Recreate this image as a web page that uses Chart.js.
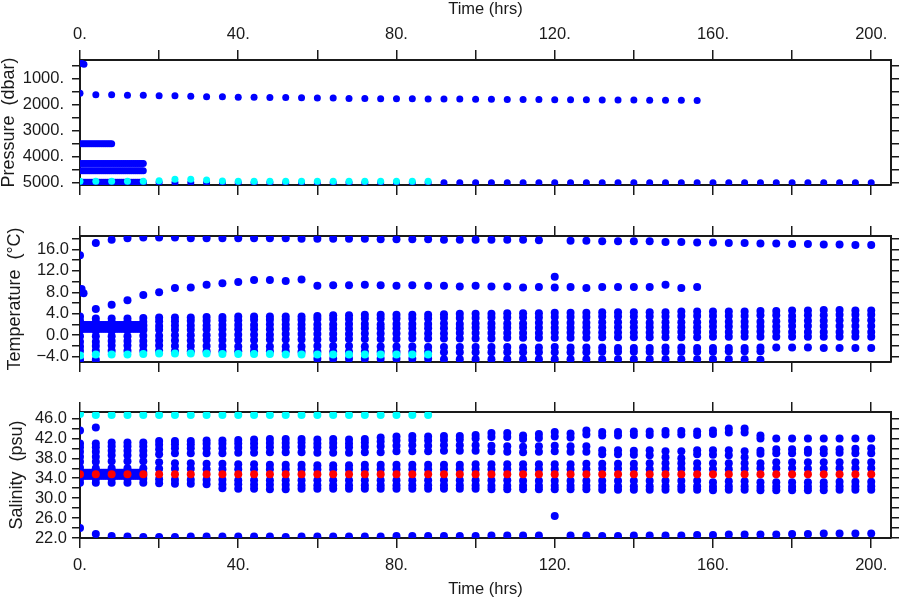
<!DOCTYPE html>
<html>
<head>
<meta charset="utf-8">
<title>Float time series</title>
<script src="https://cdn.jsdelivr.net/npm/chart.js@4.4.1/dist/chart.umd.min.js"></script>
<style>
  body { margin: 0; background: #fff; }
  #wrap { position: relative; width: 900px; height: 600px; }
  canvas { position: absolute; left: 0; }
</style>
</head>
<body>
<div id="wrap">
  <canvas id="presChart" width="900" height="200" style="top:0"></canvas>
  <canvas id="tempChart" width="900" height="200" style="top:200px"></canvas>
  <canvas id="salChart" width="900" height="200" style="top:400px"></canvas>
</div>
<script>
/* Sample times (hrs) */
const times = [0, 4, 8, 12, 16, 20, 24, 28, 32, 36, 40, 44, 48, 52, 56, 60, 64, 68, 72, 76,
  80, 84, 88, 92, 96, 100, 104, 108, 112, 116, 120, 124, 128, 132, 136, 140, 144, 148, 152, 156,
  160, 164, 168, 172, 176, 180, 184, 188, 192, 196, 200];
const denseTimes = [0, 0.5, 1, 1.5, 2, 2.5, 3, 3.5, 4, 4.5, 5, 5.5, 6, 6.5, 7, 7.5, 8, 8.5,
  9, 9.5, 10, 10.5, 11, 11.5, 12, 12.5, 13, 13.5, 14, 14.5, 15, 15.5, 16];

/* Tick positions */
const timeTicks = [0, 20, 40, 60, 80, 100, 120, 140, 160, 180, 200];
const presTicks = [500, 1000, 1500, 2000, 2500, 3000, 3500, 4000, 4500, 5000];
const tempTicks = [-4, -2, 0, 2, 4, 6, 8, 10, 12, 14, 16, 18];
const salTicks = [22, 24, 26, 28, 30, 32, 34, 36, 38, 40, 42, 44, 46];

/* Pressure (dbar) */
const presUpper = [1550, 1610, 1610, 1630, 1630, 1650, 1650, 1670, 1690, 1690,
  1710, 1710, 1720, 1720, 1730, 1740, 1740, 1750, 1750, 1760,
  1760, 1760, 1770, 1770, 1770, 1780, 1780, 1790, 1790, 1790,
  1800, 1800, 1800, 1810, 1810, 1810, 1820, 1820, 1820, 1830,
  null, null, null, null, null, null, null, null, null, null, null];
const presDeep = [5000, 4995, 4995, 4995, 4995, 4995, 5000, 5000, 5000, 5000,
  5000, 5000, 5000, 5000, 5000, 5000, 5000, 5000, 5000, 5000,
  5000, 5000, 5000, 5000, 5000, 5000, 5000, 5000, 5000, 5000,
  5000, 5000, 5000, 5000, 5000, 5000, 5000, 5000, 5000, 5000,
  5000, 5000, 5000, 5000, 5000, 5000, 5000, 5000, 5000, 5000, 5000];
const presCyan = [4950, 4950, 4950, 4950, 4950, 4930, 4870, 4870, 4900, 4940,
  4950, 4950, 4950, 4950, 4950, 4950, 4950, 4950, 4950, 4950, 4950, 4950, 4950];
const presExtraX = [0.4, 1];
const presExtraY = [400, 430];
const presBandLevels = [3500, 4260, 4540, 4980];
const presBandEnds = [8, 16, 16, 16];

/* Temperature (deg C) */
const tempTop = [14.9, 17.2, 17.8, 18.1, 18.2, 18.2, 18.2, 18.1, 18.1, 18.1,
  18.1, 18.1, 18.1, 18.1, 18.0, 18.0, 18.0, 18.0, 18.0, 17.9,
  17.9, 17.9, 17.9, 17.8, 17.8, 17.8, 17.8, 17.8, 17.8, 17.7,
  null, 17.6, 17.6, 17.5, 17.5, 17.5, 17.5, 17.4, 17.4, 17.3,
  17.3, 17.2, 17.2, 17.1, 17.1, 17.0, 17.0, 16.9, 16.9, 16.8, 16.8];
const tempMid = [8.0, 4.9, 5.7, 6.5, 7.5, 8.0, 8.8, 8.9, 9.4, 9.7,
  9.9, 10.3, 10.3, 10.1, 10.4, 9.2, 9.3, 9.3, 9.4, 9.3,
  9.2, 9.3, 9.2, 9.2, 9.1, 9.2, 9.1, 9.1, 8.9, 9.0,
  8.9, 9.0, 8.8, 9.0, 9.0, 9.0, 9.0, 9.4, 8.8, 9.0,
  null, null, null, null, null, null, null, null, null, null, null];
const tempA = [3.5, 3.1, 3.1, 3.1, 3.2, 3.3, 3.3, 3.3, 3.4, 3.4,
  3.5, 3.5, 3.5, 3.5, 3.5, 3.6, 3.7, 3.7, 3.8, 3.8,
  3.8, 3.8, 3.8, 3.9, 4.0, 4.0, 4.0, 4.1, 4.1, 4.1,
  4.2, 4.2, 4.2, 4.3, 4.3, 4.3, 4.3, 4.3, 4.4, 4.4,
  4.4, 4.4, 4.4, 4.5, 4.5, 4.6, 4.6, 4.7, 4.7, 4.6, 4.6];
const tempB = [2.7, 2.4, 2.4, 2.5, 2.5, 2.6, 2.6, 2.7, 2.7, 2.8,
  2.8, 2.9, 2.9, 2.9, 2.9, 3.0, 3.0, 3.0, 3.1, 3.1,
  3.1, 3.1, 3.1, 3.2, 3.2, 3.2, 3.3, 3.3, 3.3, 3.3,
  3.4, 3.4, 3.4, 3.5, 3.5, 3.5, 3.5, 3.5, 3.6, 3.6,
  3.6, 3.6, 3.6, 3.7, 3.7, 3.6, 3.7, 3.7, 3.8, 3.8, 3.8];
const tempC = [1.8, 1.6, 1.6, 1.6, 1.7, 1.7, 1.8, 1.8, 1.8, 1.9,
  1.9, 1.9, 2.0, 2.0, 2.0, 2.0, 2.0, 2.1, 2.1, 2.0,
  2.1, 2.1, 2.1, 2.2, 2.1, 2.2, 2.2, 2.2, 2.2, 2.3,
  2.3, 2.3, 2.3, 2.4, 2.4, 2.4, 2.3, 2.4, 2.4, 2.4,
  2.5, 2.5, 2.5, 2.5, 2.6, 2.7, 2.7, 2.7, 2.8, 2.8, 2.8];
const tempD = [0.9, 0.8, 0.8, 0.9, 0.9, 1.0, 1.0, 1.0, 1.1, 1.1,
  1.1, 1.1, 1.1, 1.2, 1.2, 1.2, 1.2, 1.2, 1.3, 1.3,
  1.3, 1.3, 1.3, 1.3, 1.3, 1.4, 1.4, 1.4, 1.4, 1.4,
  1.4, 1.4, 1.5, 1.5, 1.5, 1.5, 1.5, 1.5, 1.5, 1.5,
  1.6, 1.6, 1.6, 1.6, 1.6, 1.7, 1.7, 1.7, 1.7, 1.7, 1.7];
const tempE = [-0.2, -0.2, -0.2, -0.2, -0.1, -0.1, 0.0, 0.0, 0.0, 0.1,
  0.1, 0.1, 0.1, 0.2, 0.2, 0.2, 0.2, 0.2, 0.3, 0.3,
  0.3, 0.3, 0.3, 0.3, 0.4, 0.4, 0.4, 0.4, 0.4, 0.4,
  0.5, 0.5, 0.5, 0.5, 0.5, 0.5, 0.5, 0.6, 0.6, 0.6,
  0.6, 0.6, 0.6, 0.7, 0.7, 0.6, 0.6, 0.6, 0.6, 0.6, 0.6];
const tempF = [-1.2, -1.2, -1.1, -1.1, -1.1, -1.0, -1.0, -1.0, -0.9, -0.9,
  -0.9, -0.9, -0.8, -0.8, -0.8, -0.8, -0.7, -0.7, -0.7, -0.7,
  -0.7, -0.6, -0.6, -0.6, -0.6, -0.6, -0.6, -0.5, -0.5, -0.5,
  -0.5, -0.5, -0.5, -0.4, -0.4, -0.4, -0.4, -0.4, -0.4, -0.4,
  -0.3, -0.3, -0.3, -0.3, -0.3, -0.3, -0.3, -0.3, -0.3, -0.3, -0.3];
const tempG = [-2.1, -2.0, -1.9, -1.9, -1.9, -1.9, -2.0, -2.0, -2.0, -2.0,
  -2.1, -2.1, -2.1, -2.1, -2.1, -2.0, -2.0, -2.0, -2.1, -2.1,
  -2.1, -2.1, -2.2, -2.2, -2.2, -2.2, -2.2, -2.2, -2.3, -2.3,
  -2.2, -2.3, -2.3, -2.3, -2.4, -2.4, -2.4, -2.3, -2.3, -2.4,
  -2.4, -2.4, -2.4, -2.3, -2.3, -2.3, -2.3, -2.4, -2.4, -2.4, -2.4];
const tempH = [-2.9, -2.9, -2.9, -2.9, -2.9, -2.9, -3.0, -3.0, -3.0, -3.0,
  -3.0, -3.0, -3.0, -3.0, -3.1, -3.1, -3.1, -3.1, -3.1, -3.1,
  -3.1, -3.1, -3.1, -3.2, -3.2, -3.2, -3.2, -3.2, -3.2, -3.2,
  -3.2, -3.2, -3.2, -3.1, -3.1, -3.1, -3.1, -3.1, -3.1, -3.1,
  -3.1, -3.0, -3.0, -3.0, null, null, null, null, null, null, null];
const tempI = [-4.6, -4.6, null, null, null, null, null, null, null, null,
  null, null, null, null, null, -4.4, -4.4, -4.4, -4.4, -4.4,
  -4.4, -4.4, -4.4, -4.5, -4.5, -4.5, -4.5, -4.5, -4.5, -4.5,
  -4.5, -4.5, -4.5, -4.5, -4.5, -4.5, -4.5, -4.5, -4.5, -4.5,
  -4.5, -4.5, -4.5, -4.6, null, null, null, null, null, null, null];
const tempCyan = [-3.8, -3.6, -3.6, -3.6, -3.5, -3.4, -3.4, -3.4, -3.4, -3.5,
  -3.5, -3.5, -3.5, -3.6, -3.6, -3.6, -3.6, -3.6, -3.6, -3.6, -3.6, -3.6, -3.6];
const tempExtraX = [0.4, 0.9, 120];
const tempExtraY = [8.6, 7.8, 10.9];
const tempBandLevels = [1.9, 1.2];

/* Salinity (psu) */
const salA = [41.0, 41.0, 41.2, 41.2, 41.2, 41.5, 41.5, 41.5, 41.6, 41.6,
  41.7, 41.8, 41.9, 41.9, 41.9, 41.8, 41.9, 41.8, 41.9, 42.2,
  42.4, 42.5, 42.4, 42.5, 42.5, 42.7, 43.1, 43.1, 42.6, 42.9,
  43.3, 43.0, 43.6, 43.3, 43.3, 43.4, 43.4, 43.5, 43.5, 43.4,
  43.6, 44.0, 44.0, 42.6, 42.0, 42.0, 42.0, 42.0, 42.0, 42.0, 42.0];
const salB = [40.2, 40.2, 40.4, 40.4, 40.4, 40.7, 40.8, 40.8, 40.9, 40.9,
  41.0, 41.0, 41.1, 41.1, 41.2, 41.0, 41.1, 41.0, 41.2, 41.4,
  41.6, 41.7, 41.6, 41.7, 41.8, 42.0, 42.3, 42.3, 41.9, 42.1,
  42.4, 42.2, 42.8, 42.6, 42.6, 42.7, 42.7, 42.8, 42.8, 42.7,
  42.9, 43.2, 43.2, 42.0, 39.8, 39.8, 39.7, 39.8, 39.8, 39.9, 40.0];
const salC = [39.3, 39.3, 39.5, 39.5, 39.5, 39.8, 40.0, 40.0, 40.0, 40.0,
  40.1, 40.1, 40.2, 40.2, 40.3, 40.2, 40.2, 40.2, 40.3, 40.4,
  40.5, 40.6, 40.5, 40.6, 40.6, 40.6, 40.5, 40.4, 40.3, 40.4,
  40.5, 40.4, 40.4, 39.6, 39.6, 39.5, 39.6, 39.4, 39.4, 39.6,
  39.6, 39.6, 39.4, 39.5, 39.0, 39.0, 39.1, 39.0, 39.1, 39.0, 39.0];
const salD = [38.3, 38.3, 38.6, 38.6, 38.6, 38.8, 39.0, 39.0, 39.0, 39.0,
  39.1, 39.1, 39.2, 39.2, 39.2, 39.1, 39.1, 39.1, 39.2, 39.2,
  39.4, 39.4, 39.4, 39.5, 39.5, 39.5, 39.4, 39.3, 39.2, 39.3,
  39.4, 39.3, 39.3, 38.8, 38.8, 38.7, 38.6, 38.2, 38.0, 38.8,
  38.7, 38.6, 38.2, 38.9, null, null, null, null, null, null, null];
const salE = [37.3, 37.3, 37.4, 37.4, 37.4, 37.2, 37.0, 37.0, 36.9, 36.9,
  36.8, 36.8, 36.7, 36.7, 36.7, 36.6, 36.6, 36.6, 36.7, 36.7,
  36.7, 36.7, 36.7, 36.7, 36.7, 36.8, 36.8, 36.8, 36.8, 36.8,
  36.8, 36.8, 36.9, 36.9, 36.9, 36.9, 37.0, 37.0, 37.0, 37.0,
  37.0, 37.0, 37.0, 37.0, 37.2, 37.2, 37.2, 37.2, 37.2, 37.2, 37.2];
const salF = [36.1, 36.0, 36.0, 36.0, 36.0, 35.9, 35.9, 35.9, 35.8, 35.8,
  35.8, 35.8, 35.8, 35.8, 35.8, 35.8, 35.8, 35.8, 35.8, 35.8,
  35.8, 35.8, 35.8, 35.8, 35.8, 35.8, 35.8, 35.8, 35.8, 35.8,
  35.8, 35.8, 35.8, 35.9, 35.9, 35.9, 35.8, 35.9, 35.9, 35.9,
  35.8, 35.8, 35.9, 36.0, 36.0, 36.0, 35.9, 35.9, 36.0, 36.0, 36.0];
const salG = [33.9, 33.9, 33.9, 33.9, 33.9, 33.8, 33.7, 33.7, 33.7, 33.7,
  33.6, 33.6, 33.6, 33.6, 33.6, 33.6, 33.6, 33.6, 33.6, 33.6,
  33.6, 33.6, 33.6, 33.6, 33.6, 33.6, 33.6, 33.6, 33.5, 33.5,
  33.5, 33.5, 33.5, 33.5, 33.5, 33.5, 33.5, 33.5, 33.5, 33.5,
  33.2, 33.4, 33.4, 33.2, 33.2, 33.2, 33.2, 33.2, 33.3, 33.3, 33.3];
const salH = [33.1, 33.1, 33.1, 33.1, 33.1, 33.0, 32.9, 32.9, 32.8, 32.8,
  32.8, 32.7, 32.7, 32.7, 32.6, 32.6, 32.6, 32.6, 32.6, 32.6,
  32.6, 32.6, 32.6, 32.6, 32.6, 32.6, 32.5, 32.5, 32.5, 32.5,
  32.5, 32.5, 32.5, 32.5, 32.4, 32.4, 32.4, 32.4, 32.4, 32.4,
  32.3, 32.4, 32.4, 32.3, 32.3, 32.3, 32.3, 32.4, 32.4, 32.4, 32.4];
const salI = [null, null, null, null, null, null, null, null, null, 32.0,
  31.9, 31.9, 31.8, 31.8, 31.9, 31.9, 31.9, 31.9, 31.9, 31.9,
  31.9, 31.9, 31.9, 31.9, 31.9, 31.9, 31.8, 31.8, 31.8, 31.8,
  31.8, 31.8, 31.8, 31.7, 31.7, 31.7, 31.7, 31.7, 31.7, 31.7,
  31.6, 31.7, 31.7, 31.6, 31.6, 31.6, 31.6, 31.6, 31.7, 31.7, 31.7];
const salBottom = [24.0, 22.8, 22.4, 22.3, 22.2, 22.2, 22.2, 22.3, 22.3, 22.3,
  22.3, 22.3, 22.3, 22.2, 22.3, 22.3, 22.3, 22.3, 22.3, 22.3,
  22.4, 22.4, 22.4, 22.4, 22.4, 22.4, 22.5, 22.5, 22.5, 22.5,
  null, 22.5, 22.5, 22.4, 22.4, 22.5, 22.5, 22.5, 22.5, 22.6,
  22.6, 22.7, 22.7, 22.7, 22.7, 22.8, 22.8, 22.9, 22.9, 22.9, 22.9];
const salRed = [34.8, 34.8, 34.8, 34.8, 34.8, 34.8, 34.8, 34.8, 34.8, 34.8,
  34.8, 34.8, 34.8, 34.8, 34.8, 34.8, 34.8, 34.8, 34.8, 34.8,
  34.8, 34.8, 34.8, 34.8, 34.8, 34.8, 34.8, 34.8, 34.8, 34.8,
  34.8, 34.8, 34.8, 34.8, 34.8, 34.8, 34.8, 34.8, 34.8, 34.8,
  34.8, 34.8, 34.8, 34.8, 34.8, 34.8, 34.8, 34.8, 34.8, 34.8, 34.8];
const salCyan = [46.9, 46.7, 46.7, 46.7, 46.7, 46.7, 46.7, 46.7, 46.7, 46.7,
  46.7, 46.7, 46.7, 46.7, 46.7, 46.7, 46.7, 46.7, 46.7, 46.7, 46.7, 46.7, 46.7];
const salExtraX = [0, 4, 120];
const salExtraY = [43.6, 44.2, 26.4];
const salBandLevels = [35.1, 34.5];

const BLUE = '#0000ff';
const CYAN = '#00ffff';
const RED = '#ff0000';
const INK = '#1a1a1a';
const FONT = { family: "'Liberation Sans', Arial, sans-serif", size: 16.5 };
const TITLE_FONT = { family: "'Liberation Sans', Arial, sans-serif", size: 18 };


function toPoints(xs, ys) {
    let pts = [];
    ys.forEach((y, i) => {
        if (y !== null) pts.push({ x: xs[i], y: y });
    });
    return pts;
}


function bandPoints(level, end) {
    return denseTimes.filter(t => t <= end).map(t => ({ x: t, y: level }));
}


function dots(data, color, order, radius) {
    return {
        data,
        backgroundColor: color,
        borderWidth: 0,
        pointRadius: radius,
        pointHoverRadius: radius,
        order,
        clip: 0
    };
}


function timeAxis(position, labelled, boxHeight, labelPad, titlePad) {
    return {
        type: 'linear',
        position,
        min: 0,
        max: 205,
        afterBuildTicks: (scale) => { scale.ticks = timeTicks.map(v => ({ value: v })); },
        afterFit: (scale) => {
            scale.height = boxHeight;
            scale.paddingLeft = 0;
            scale.paddingRight = 0;
        },
        border: { display: true, color: INK, width: 2 },
        grid: { drawOnChartArea: false, tickLength: 10, color: INK, lineWidth: 1.5 },
        ticks: {
            display: labelled, autoSkip: false, maxRotation: 0,
            padding: labelPad, color: INK, font: FONT,
            callback: (v) => (v % 40 === 0 ? v + '.' : '')
        },
        title: { display: labelled, text: 'Time (hrs)', color: INK, font: FONT, padding: titlePad }
    };
}


function valueAxis(position, cfg) {
    const left = position === 'left';
    return {
        type: 'linear',
        position,
        min: cfg.min,
        max: cfg.max,
        reverse: !!cfg.reverse,
        afterBuildTicks: (scale) => { scale.ticks = cfg.ticks.map(v => ({ value: v })); },
        afterFit: (scale) => {
            scale.width = left ? 80 : 9;
            scale.paddingTop = 0;
            scale.paddingBottom = 0;
        },
        border: { display: true, color: INK, width: 2 },
        grid: { drawOnChartArea: false, tickLength: 8, color: INK, lineWidth: 1.5 },
        ticks: {
            display: left, autoSkip: false,
            padding: cfg.labelPad, color: INK, font: FONT, callback: cfg.format
        },
        title: { display: left, text: cfg.title, color: INK, font: TITLE_FONT, padding: { top: cfg.titlePad, bottom: 0 } }
    };
}


function makePanel(id, datasets, axisCfg, topAxis, bottomAxis) {
    new Chart(document.getElementById(id), {
        type: 'scatter',
        data: { datasets },
        options: {
            responsive: false,
            animation: false,
            events: [],
            layout: { padding: 0, autoPadding: false },
            plugins: { legend: { display: false }, tooltip: { enabled: false } },
            scales: {
                x: bottomAxis,
                x2: topAxis,
                y: valueAxis('left', axisCfg),
                y2: valueAxis('right', axisCfg)
            }
        }
    });
}


function signed(v) {
    return (v < 0 ? '\u2212' : '') + Math.abs(v).toFixed(1);
}

/* Pressure panel */
let presSets = [
    dots(toPoints(times, presCyan), CYAN, 0, 3.5),
    dots(toPoints(times, presUpper), BLUE, 1, 3.5),
    dots(toPoints(times, presDeep), BLUE, 1, 3.5),
    dots(toPoints(presExtraX, presExtraY), BLUE, 1, 3.5)
];
presBandLevels.forEach((lvl, i) => presSets.push(dots(bandPoints(lvl, presBandEnds[i]), BLUE, 1, 3.5)));

makePanel('presChart', presSets,
    { min: 270, max: 5090, reverse: true, ticks: presTicks, labelPad: 8, titlePad: -2,
      title: 'Pressure  (dbar)', format: (v) => (v % 1000 === 0 ? v + '.' : '') },
    timeAxis('top', true, 60, 6, { top: 0, bottom: 0 }),
    timeAxis('bottom', false, 15, 0, 0));

/* Temperature panel */
let tempSets = [dots(toPoints(times, tempCyan), CYAN, 0, 4)];
[tempTop, tempMid, tempA, tempB, tempC, tempD, tempE, tempF, tempG, tempH, tempI].forEach(
    (level) => tempSets.push(dots(toPoints(times, level), BLUE, 1, 4)));
tempSets.push(dots(toPoints(tempExtraX, tempExtraY), BLUE, 1, 4));
tempBandLevels.forEach((lvl) => tempSets.push(dots(bandPoints(lvl, 16), BLUE, 1, 4)));

makePanel('tempChart', tempSets,
    { min: -5, max: 18.5, ticks: tempTicks, labelPad: 3, titlePad: 4,
      title: 'Temperature  (\u00b0C)', format: (v) => (v % 4 === 0 ? signed(v) : '') },
    timeAxis('top', false, 36, 0, 0),
    timeAxis('bottom', false, 38, 0, 0));

/* Salinity panel */
let salSets = [
    dots(toPoints(times, salRed), RED, 0, 4),
    dots(toPoints(times, salCyan), CYAN, 0, 4)
];
[salA, salB, salC, salD, salE, salF, salG, salH, salI, salBottom].forEach(
    (level) => salSets.push(dots(toPoints(times, level), BLUE, 1, 4)));
salSets.push(dots(toPoints(salExtraX, salExtraY), BLUE, 1, 4));
salBandLevels.forEach((lvl) => salSets.push(dots(bandPoints(lvl, 16), BLUE, 1, 4)));

makePanel('salChart', salSets,
    { min: 22, max: 47.3, ticks: salTicks, labelPad: 5, titlePad: 6,
      title: 'Salinity  (psu)', format: (v) => ((v - 22) % 4 === 0 ? signed(v) : '') },
    timeAxis('top', false, 12, 0, 0),
    timeAxis('bottom', true, 62, 8, { top: 0, bottom: 1 }));
</script>
</body>
</html>
